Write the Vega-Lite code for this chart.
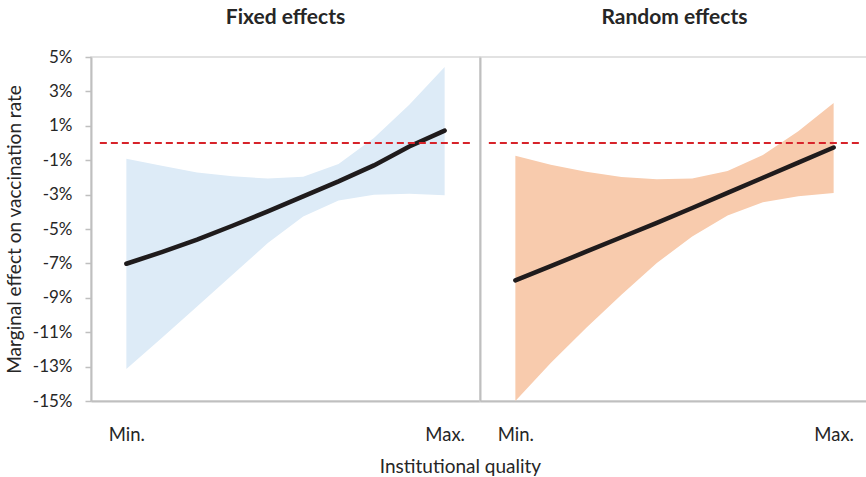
{
  "$schema": "https://vega.github.io/schema/vega-lite/v6.json",
  "background": "white",
  "padding": {"left": 4, "top": 6, "right": 0, "bottom": 0},
  "spacing": 0,
  "bounds": "flush",
  "datasets": {
    "est": [
      {"model": "Fixed effects", "q": 0, "est": -7.02, "lo": -13.14, "hi": -0.91},
      {"model": "Fixed effects", "q": 1, "est": -6.34, "lo": -11.34, "hi": -1.32},
      {"model": "Fixed effects", "q": 2, "est": -5.62, "lo": -9.5, "hi": -1.71},
      {"model": "Fixed effects", "q": 3, "est": -4.81, "lo": -7.66, "hi": -1.94},
      {"model": "Fixed effects", "q": 4, "est": -3.98, "lo": -5.82, "hi": -2.06},
      {"model": "Fixed effects", "q": 5, "est": -3.1, "lo": -4.27, "hi": -1.96},
      {"model": "Fixed effects", "q": 6, "est": -2.23, "lo": -3.34, "hi": -1.22},
      {"model": "Fixed effects", "q": 7, "est": -1.3, "lo": -3.01, "hi": 0.29},
      {"model": "Fixed effects", "q": 8, "est": -0.2, "lo": -2.95, "hi": 2.23},
      {"model": "Fixed effects", "q": 9, "est": 0.72, "lo": -3.04, "hi": 4.42},
      {"model": "Random effects", "q": 0, "est": -7.99, "lo": -15.0, "hi": -0.74},
      {"model": "Random effects", "q": 1, "est": -7.16, "lo": -12.79, "hi": -1.26},
      {"model": "Random effects", "q": 2, "est": -6.32, "lo": -10.76, "hi": -1.67},
      {"model": "Random effects", "q": 3, "est": -5.48, "lo": -8.82, "hi": -1.98},
      {"model": "Random effects", "q": 4, "est": -4.64, "lo": -6.98, "hi": -2.11},
      {"model": "Random effects", "q": 5, "est": -3.78, "lo": -5.43, "hi": -2.06},
      {"model": "Random effects", "q": 6, "est": -2.9, "lo": -4.21, "hi": -1.63},
      {"model": "Random effects", "q": 7, "est": -2.02, "lo": -3.45, "hi": -0.7},
      {"model": "Random effects", "q": 8, "est": -1.14, "lo": -3.1, "hi": 0.68},
      {"model": "Random effects", "q": 9, "est": -0.26, "lo": -2.91, "hi": 2.33}
    ],
    "zero": [{"x": -0.75, "y": 0}, {"x": 9.75, "y": 0}]
  },
  "hconcat": [
    {
      "title": "Fixed effects",
      "width": 389,
      "height": 344,
      "layer": [
        {
          "data": {"name": "est"},
          "transform": [{"filter": "datum.model === 'Fixed effects'"}],
          "mark": {"type": "area", "color": "#ddebf7", "opacity": 1},
          "encoding": {
            "x": {"field": "q", "type": "quantitative", "scale": {"domain": [-1, 10], "nice": false, "zero": false},
              "axis": {"values": [0, 9], "labelExpr": "datum.value == 0 ? 'Min.' : 'Max.'", "title": "Institutional quality", "titleX": 369, "titleAnchor": "middle", "titleAlign": "center"}},
            "y": {"field": "lo", "type": "quantitative", "scale": {"domain": [-15, 5], "nice": false},
              "axis": {"values": [-15, -13, -11, -9, -7, -5, -3, -1, 1, 3, 5], "tickCount": 30, "labelExpr": "datum.value + '%'", "labelOverlap": false, "labelBound": false, "title": "Marginal effect on vaccination rate"}},
            "y2": {"field": "hi"}
          }
        },
        {
          "data": {"name": "est"},
          "transform": [{"filter": "datum.model === 'Fixed effects'"}],
          "mark": {"type": "line", "color": "#1f1b1c", "strokeWidth": 4.5, "strokeCap": "round"},
          "encoding": {
            "x": {"field": "q", "type": "quantitative"},
            "y": {"field": "est", "type": "quantitative"}
          }
        },
        {
          "data": {"name": "zero"},
          "mark": {"type": "line", "color": "#d7232a", "strokeWidth": 2, "strokeDash": [7, 4]},
          "encoding": {
            "x": {"field": "x", "type": "quantitative"},
            "y": {"field": "y", "type": "quantitative"}
          }
        }
      ]
    },
    {
      "title": "Random effects",
      "width": 389,
      "height": 344,
      "layer": [
        {
          "data": {"name": "est"},
          "transform": [{"filter": "datum.model === 'Random effects'"}],
          "mark": {"type": "area", "color": "#f8cbad", "opacity": 1},
          "encoding": {
            "x": {"field": "q", "type": "quantitative", "scale": {"domain": [-1, 10], "nice": false, "zero": false},
              "axis": {"values": [0, 9], "labelExpr": "datum.value == 0 ? 'Min.' : 'Max.'", "title": null}},
            "y": {"field": "lo", "type": "quantitative", "scale": {"domain": [-15, 5], "nice": false},
              "axis": {"values": [-15, -13, -11, -9, -7, -5, -3, -1, 1, 3, 5], "tickCount": 30, "labelExpr": "datum.value + '%'", "labelOverlap": false, "labelOpacity": 0, "ticks": false, "title": null}},
            "y2": {"field": "hi"}
          }
        },
        {
          "data": {"name": "est"},
          "transform": [{"filter": "datum.model === 'Random effects'"}],
          "mark": {"type": "line", "color": "#1f1b1c", "strokeWidth": 4.5, "strokeCap": "round"},
          "encoding": {
            "x": {"field": "q", "type": "quantitative"},
            "y": {"field": "est", "type": "quantitative"}
          }
        },
        {
          "data": {"name": "zero"},
          "mark": {"type": "line", "color": "#d7232a", "strokeWidth": 2, "strokeDash": [7, 4]},
          "encoding": {
            "x": {"field": "x", "type": "quantitative"},
            "y": {"field": "y", "type": "quantitative"}
          }
        }
      ]
    }
  ],
  "config": {
    "font": "Lato",
    "view": {"stroke": "#d9d9d9", "strokeWidth": 1.5},
    "title": {"fontSize": 21, "fontWeight": "bold", "color": "#262626", "anchor": "middle", "offset": 20},
    "axis": {
      "grid": false,
      "domainColor": "#bfbfbf",
      "domainWidth": 2,
      "tickColor": "#bfbfbf",
      "tickWidth": 1.5,
      "tickSize": 6,
      "labelFont": "Lato",
      "labelFontSize": 17,
      "labelColor": "#262626",
      "labelOverlap": false,
      "titleFont": "Lato",
      "titleFontSize": 19,
      "titleFontWeight": "normal",
      "titleColor": "#262626"
    },
    "axisY": {"labelPadding": 13, "titlePadding": 8},
    "axisX": {"ticks": false, "labelPadding": 24, "titlePadding": 14, "labelFlush": false, "labelFontSize": 18.5}
  }
}
